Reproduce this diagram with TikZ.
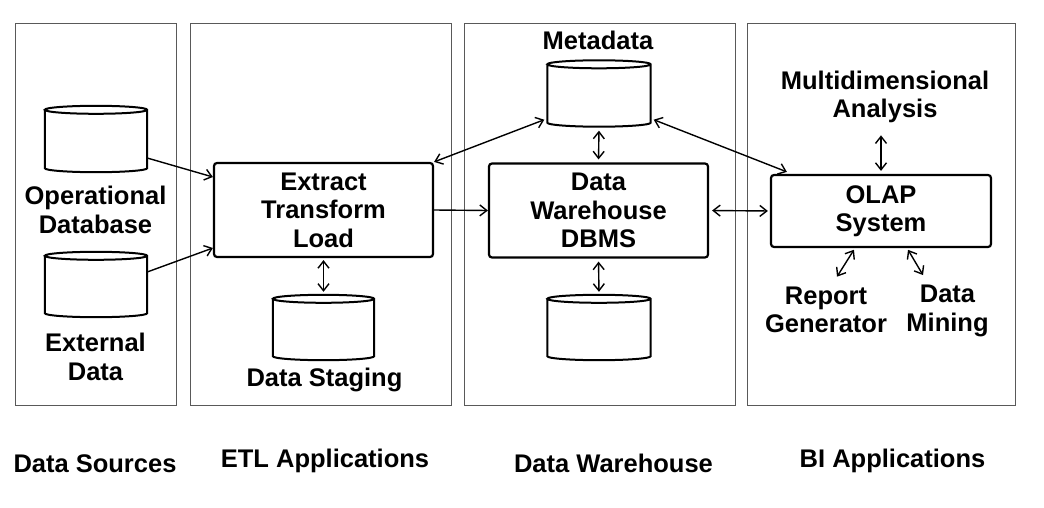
\documentclass[tikz,border=0pt]{standalone}
\usepackage{fontspec}
\setmainfont{Liberation Sans}
\usetikzlibrary{arrows.meta,calc}
\tikzset{
  panel/.style={draw=black!65,line width=0.9pt,rectangle,inner sep=0pt},
  procbox/.style={draw,line width=2.2pt,rounded corners=3pt,rectangle,align=center,inner sep=0pt},
  lbl/.style={align=center,inner sep=0pt},
  cylnode/.style={rectangle,inner sep=0pt,draw=none},
  cylline/.style={line width=2pt},
  conn/.style={line width=1.4pt,-{Straight Barb[length=7pt,width=11pt]}},
  biconn/.style={line width=1.4pt,{Straight Barb[length=7pt,width=11pt]}-{Straight Barb[length=7pt,width=11pt]}},
}
\newcommand\mycyl[1]{%
  \path let \p1=(#1.north west), \p2=(#1.south east), \n1={(\x2-\x1)/2} in
    [cylline,draw] (\x1,\y1-4pt) -- (\x1,\y2+4pt)
    arc[start angle=180,end angle=360,x radius=\n1,y radius=4pt]
    -- (\x2,\y1-4pt)
    arc[start angle=0,end angle=360,x radius=\n1,y radius=4pt];}
\begin{document}
\begin{tikzpicture}[x=1pt,y=-1pt,font=\fontsize{25.5}{28.5}\selectfont\bfseries]
\useasboundingbox[fill=white] (0,0) rectangle (1044,508);

% panels
\node[panel,minimum width=161pt,minimum height=382pt] (p1) at (95.5,214) {};
\node[panel,minimum width=261pt,minimum height=382pt] (p2) at (320.5,214) {};
\node[panel,minimum width=271pt,minimum height=382pt] (p3) at (599.5,214) {};
\node[panel,minimum width=268pt,minimum height=382pt] (p4) at (881,214) {};

% cylinders
\node[cylnode,minimum width=102pt,minimum height=66pt] (opdb) at (96,139) {};
\node[cylnode,minimum width=102pt,minimum height=65pt] (ext) at (96,284.5) {};
\node[cylnode,minimum width=101pt,minimum height=65pt] (stg) at (323.5,327.5) {};
\node[cylnode,minimum width=103pt,minimum height=66pt] (meta) at (599,93.5) {};
\node[cylnode,minimum width=103pt,minimum height=65pt] (dwst) at (599,327.5) {};
\mycyl{opdb}
\mycyl{ext}
\mycyl{stg}
\mycyl{meta}
\mycyl{dwst}

% process boxes
\node[procbox,minimum width=219pt,minimum height=94pt] (etl) at (323.5,210) {Extract\\Transform\\Load};
\node[procbox,minimum width=219pt,minimum height=94pt] (dw) at (598.5,210.5) {Data\\Warehouse\\DBMS};
\node[procbox,minimum width=220pt,minimum height=72pt] (olap) at (881,211) {OLAP\\System};

% labels
\node[lbl] (lopdb) at (95.5,210) {Operational\\Database};
\node[lbl] (lext) at (95.5,357) {External\\Data};
\node[lbl,anchor=base] (lstg) at (324.5,386) {Data Staging};
\node[lbl,anchor=base] (lmeta) at (598,50) {Metadata};
\node[lbl] (mda) at (885,97) {Multidimensional\\Analysis};
\node[lbl] (rep) at (826,310) {Report\\Generator};
\node[lbl] (dm) at (947.5,311) {Data\\Mining};

\node[lbl,anchor=base] (t1) at (95,472) {Data Sources};
\node[lbl,anchor=base] (t2) at (325,467) {ETL Applications};
\node[lbl,anchor=base] (t3) at (613.5,472) {Data Warehouse};
\node[lbl,anchor=base] (t4) at (892.5,467) {BI Applications};

% connectors
\draw[conn] ([yshift=-19pt]opdb.east) -- ([yshift=33pt]etl.west);
\draw[conn] ([yshift=12.5pt]ext.east) -- ([yshift=-38pt]etl.west);
\draw[biconn,shorten <=2pt,shorten >=3pt] (etl.south) -- (stg.north);
\draw[biconn] (etl.north east) -- ([xshift=-3pt,yshift=7pt]meta.south west);
\draw[conn] (etl.east) -- (dw.west);
\draw[biconn,shorten <=4pt,shorten >=3pt] (meta.south) -- (dw.north);
\draw[biconn] ([xshift=3pt,yshift=7pt]meta.south east) -- ([xshift=17pt,yshift=2pt]olap.north west);
\draw[biconn,shorten <=3pt,shorten >=2pt] (dw.east) -- (olap.west);
\draw[biconn,shorten <=3pt,shorten >=3pt] (dw.south) -- (dwst.north);
\draw[biconn,shorten <=12pt,shorten >=3pt] ([xshift=-4pt]mda.south) -- (olap.north);
\draw[biconn,shorten <=2pt] ([xshift=-26pt]olap.south) -- ([xshift=11pt,yshift=10pt]rep.north);
\draw[biconn,shorten <=2pt] ([xshift=26pt]olap.south) -- ([xshift=-24.5pt,yshift=10pt]dm.north);
\end{tikzpicture}
\end{document}
